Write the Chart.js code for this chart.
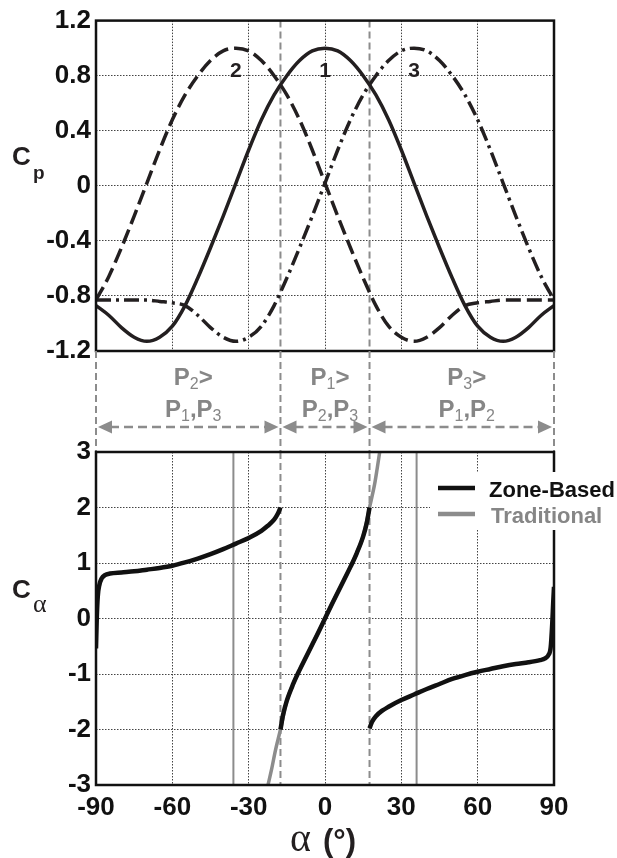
<!DOCTYPE html>
<html>
<head>
<meta charset="utf-8">
<script src="https://cdn.jsdelivr.net/npm/chart.js@4.4.1/dist/chart.umd.min.js"></script>
<style>
  html, body { margin: 0; padding: 0; background: #fff; }
  #wrap { position: relative; width: 617px; height: 858px; overflow: hidden; background: #fff; }
  #wrap canvas { position: absolute; left: 0; }
</style>
</head>
<body>
<div id="wrap">
  <canvas id="cpChart" width="617" height="460" style="top:0"></canvas>
  <canvas id="caChart" width="617" height="438" style="top:420px"></canvas>
</div>
<script>
// ---- data ----
const cpAlpha = [-90,-85,-80,-75,-70,-65,-60,-55,-50,-45,-40,-35,-30,-25,-20,-15,-10,-5,0,
                 5,10,15,20,25,30,35,40,45,50,55,60,65,70,75,80,85,90];
const cp1 = [-0.87,-0.94,-1.03,-1.10,-1.13,-1.10,-1.02,-0.87,-0.67,-0.45,-0.22,0.02,0.26,0.48,0.66,0.80,0.91,0.98,1.00,
             0.98,0.91,0.80,0.66,0.48,0.26,0.02,-0.22,-0.45,-0.67,-0.87,-1.02,-1.10,-1.13,-1.10,-1.03,-0.94,-0.87];
const cp2 = [-0.83,-0.66,-0.45,-0.22,0.02,0.26,0.48,0.66,0.80,0.91,0.98,1.00,0.98,0.91,0.80,0.66,0.48,0.26,0.02,
             -0.22,-0.45,-0.67,-0.87,-1.02,-1.10,-1.13,-1.10,-1.03,-0.94,-0.87,-0.85,-0.84,-0.83,-0.83,-0.83,-0.83,-0.83];
const cp3 = [-0.83,-0.83,-0.83,-0.83,-0.83,-0.84,-0.85,-0.87,-0.94,-1.03,-1.10,-1.13,-1.10,-1.02,-0.87,-0.67,-0.45,-0.22,0.02,
             0.26,0.48,0.66,0.80,0.91,0.98,1.00,0.98,0.91,0.80,0.66,0.48,0.26,0.02,-0.22,-0.45,-0.66,-0.83];
const cpTicks = [-1.2,-0.8,-0.4,0,0.4,0.8,1.2];

// zone-based C_alpha, three branches
const zoneAlphaA = [-90,-89.7,-89.3,-88.7,-87.8,-86.5,-84.5,-80,-75,-70,-65,-60,-55,-50,-45,-40,-35,-30,-25,-22.5,-20,-18.5,-17.5];
const zoneCaA    = [-0.54,0.0,0.4,0.6,0.72,0.78,0.81,0.83,0.85,0.88,0.91,0.95,1.01,1.08,1.16,1.25,1.35,1.45,1.58,1.67,1.78,1.89,2.0];
const zoneAlphaB = [-17.5,-16.5,-15,-12.5,-10,-7.5,-5,-2.5,0,2.5,5,7.5,10,12.5,15,16.5,17.5];
const zoneCaB    = [-2.0,-1.74,-1.48,-1.18,-0.93,-0.70,-0.47,-0.24,0,0.24,0.47,0.70,0.93,1.18,1.48,1.74,2.0];
const zoneAlphaC = [17.5,18.5,20,22.5,25,30,35,40,45,50,55,60,65,70,75,80,84.5,86.5,87.8,88.7,89.3,89.7,90];
const zoneCaC    = [-1.98,-1.86,-1.76,-1.66,-1.59,-1.47,-1.37,-1.27,-1.18,-1.09,-1.02,-0.96,-0.91,-0.86,-0.82,-0.79,-0.75,-0.72,-0.66,-0.52,-0.1,0.3,0.57];

// traditional C_alpha
const tradAlpha = [-22.4,-21,-19.5,-17.5,-15,-12.5,-10,-7.5,-5,-2.5,0,2.5,5,7.5,10,12.5,15,17.5,19.5,20.5,21.5];
const tradCa    = [-3.0,-2.72,-2.38,-2.0,-1.48,-1.18,-0.93,-0.70,-0.47,-0.24,0,0.24,0.47,0.70,0.93,1.18,1.48,2.0,2.42,2.7,3.0];
const tradLimits = [-36, 36];

const zoneBounds = [-90, -17.5, 17.5, 90];
const zoneMain = ['2', '1', '3'];
const zoneOthers = [['1', '3'], ['2', '3'], ['1', '2']];
const curveNames = ['2', '1', '3'];
const curvePeaks = [-35, 0, 35];
const xTicks = [-90, -60, -30, 0, 30, 60, 90];

// ---- style ----
const ink = '#231f20';
const gray = '#8c8c8c';
const textGray = '#868686';
const sans = "'Liberation Sans', Arial, sans-serif";
const serif = "'Liberation Serif', 'DejaVu Serif', serif";
const midBottom = 452; // top of the lower plot, page coords
Chart.defaults.font.family = sans;

function pts(xs, ys) {
    return xs.map((v, i) => ({ x: v, y: ys[i] }));
}

function vline(ctx, x, y0, y1) {
    ctx.beginPath();
    ctx.moveTo(x, y0);
    ctx.lineTo(x, y1);
    ctx.stroke();
}

// draw text made of [text, isSubscript] pieces, centred on cx
function richText(ctx, parts, cx, base, big, small, color) {
    let w = 0;
    parts.forEach(p => { ctx.font = p[1] ? small : big; w += ctx.measureText(p[0]).width; });
    let x = cx - w / 2;
    ctx.fillStyle = color;
    ctx.textAlign = 'left';
    ctx.textBaseline = 'alphabetic';
    parts.forEach(p => {
        ctx.font = p[1] ? small : big;
        ctx.fillText(p[0], x, base + (p[1] ? 4 : 0));
        x += ctx.measureText(p[0]).width;
    });
}

function arrowHead(ctx, x, y, dir) {
    ctx.beginPath();
    ctx.moveTo(x, y);
    ctx.lineTo(x - dir * 14, y - 6.5);
    ctx.lineTo(x - dir * 14, y + 6.5);
    ctx.closePath();
    ctx.fill();
}

function frame(ctx, a) {
    ctx.save();
    ctx.strokeStyle = '#111';
    ctx.lineWidth = 2.5;
    ctx.setLineDash([]);
    ctx.strokeRect(a.left, a.top, a.right - a.left, a.bottom - a.top);
    ctx.restore();
}

function zoneDashes(chart) {
    const { ctx, chartArea: a, scales: { x } } = chart;
    ctx.save();
    ctx.strokeStyle = gray;
    ctx.lineWidth = 2;
    ctx.setLineDash([7, 4]);
    zoneBounds.slice(1, 3).forEach(v => vline(ctx, x.getPixelForValue(v), a.top, a.bottom));
    ctx.restore();
}

const gridOpts = { color: '#444', lineWidth: 1, drawTicks: false };
const borderOpts = { display: false, dash: [1.5, 1.5] };
const tickFont = { size: 26, weight: 'bold' };

const topDeco = {
    id: 'topDeco',
    beforeDatasetsDraw(chart) { zoneDashes(chart); },
    afterDraw(chart) {
        const { ctx, chartArea: a, scales: { x, y } } = chart;
        frame(ctx, a);
        ctx.save();
        // curve numbers
        ctx.fillStyle = ink;
        ctx.font = 'bold 21px ' + sans;
        ctx.textAlign = 'center';
        ctx.textBaseline = 'middle';
        curveNames.forEach((n, i) => ctx.fillText(n, x.getPixelForValue(curvePeaks[i]), y.getPixelForValue(0.835)));
        // C_p
        ctx.textAlign = 'left';
        ctx.textBaseline = 'alphabetic';
        ctx.font = 'bold 26px ' + sans;
        ctx.fillText('C', 12, 165);
        ctx.font = 'bold 19px ' + sans;
        ctx.fillText('p', 33, 179);

        // zone annotations between the plots
        ctx.strokeStyle = gray;
        ctx.lineWidth = 2;
        ctx.setLineDash([7, 4]);
        zoneBounds.forEach(v => vline(ctx, x.getPixelForValue(v), a.bottom, midBottom));
        const big = 'bold 24px ' + sans, small = '16px ' + sans;
        const ay = 427;
        for (let i = 0; i < 3; i++) {
            const x0 = x.getPixelForValue(zoneBounds[i]), x1 = x.getPixelForValue(zoneBounds[i + 1]);
            const cx = (x0 + x1) / 2 + 5;
            richText(ctx, [['P', 0], [zoneMain[i], 1], ['>', 0]], cx, 385, big, small, textGray);
            richText(ctx, [['P', 0], [zoneOthers[i][0], 1], [',', 0], ['P', 0], [zoneOthers[i][1], 1]], cx, 417, big, small, textGray);
            ctx.strokeStyle = gray;
            ctx.lineWidth = 2.5;
            ctx.setLineDash([9, 5]);
            ctx.beginPath();
            ctx.moveTo(x0 + 14, ay);
            ctx.lineTo(x1 - 14, ay);
            ctx.stroke();
            ctx.fillStyle = gray;
            arrowHead(ctx, x0 + 2, ay, -1);
            arrowHead(ctx, x1 - 2, ay, 1);
        }
        ctx.restore();
    }
};

const botDeco = {
    id: 'botDeco',
    beforeDatasetsDraw(chart) { zoneDashes(chart); },
    afterDraw(chart) {
        const { ctx, chartArea: a } = chart;
        frame(ctx, a);
        ctx.save();
        // C_alpha
        ctx.fillStyle = ink;
        ctx.textAlign = 'left';
        ctx.textBaseline = 'alphabetic';
        ctx.font = 'bold 26px ' + sans;
        ctx.fillText('C', 12, 598 - 420);
        ctx.font = '26px ' + serif;
        ctx.fillText('\u03b1', 33, 612 - 420);
        // x title
        ctx.font = '40px ' + serif;
        ctx.fillText('\u03b1', 290, 851 - 420);
        ctx.font = 'bold 31px ' + sans;
        ctx.fillText('(\u00b0)', 323, 851 - 420);
        // legend
        ctx.fillStyle = '#fff';
        ctx.fillRect(430, 472 - 420, 187, 58);
        ctx.lineWidth = 4.5;
        ctx.strokeStyle = '#111';
        ctx.beginPath(); ctx.moveTo(438, 488 - 420); ctx.lineTo(475, 488 - 420); ctx.stroke();
        ctx.strokeStyle = gray;
        ctx.beginPath(); ctx.moveTo(438, 514 - 420); ctx.lineTo(475, 514 - 420); ctx.stroke();
        ctx.font = 'bold 22px ' + sans;
        ctx.fillStyle = '#111';
        ctx.fillText('Zone-Based', 489, 497 - 420);
        ctx.fillStyle = textGray;
        ctx.fillText('Traditional', 491, 523 - 420);
        ctx.restore();
    }
};

window.addEventListener('DOMContentLoaded', () => {
    // Upper plot: pressure coefficients
    new Chart(document.getElementById('cpChart'), {
        type: 'line',
        data: {
            datasets: [
                { label: 'Cp1', data: pts(cpAlpha, cp1), borderColor: ink, borderWidth: 3.5, pointRadius: 0,
                  cubicInterpolationMode: 'monotone' },
                { label: 'Cp2', data: pts(cpAlpha, cp2), borderColor: ink, borderWidth: 3.5, pointRadius: 0,
                  borderDash: [15, 6], cubicInterpolationMode: 'monotone' },
                { label: 'Cp3', data: pts(cpAlpha, cp3), borderColor: ink, borderWidth: 3.5, pointRadius: 0,
                  borderDash: [15, 5, 3, 5], cubicInterpolationMode: 'monotone' }
            ]
        },
        options: {
            responsive: false,
            animation: false,
            layout: { padding: { top: 17, right: 63, left: 0, bottom: 0 } },
            plugins: { legend: { display: false }, tooltip: { enabled: false } },
            scales: {
                x: {
                    type: 'linear', min: -90, max: 90,
                    afterBuildTicks: s => { s.ticks = xTicks.map(v => ({ value: v })); },
                    ticks: { display: false },
                    grid: gridOpts, border: borderOpts,
                    afterFit: s => { s.height = 109; }
                },
                y: {
                    min: -1.2, max: 1.2,
                    afterBuildTicks: s => { s.ticks = cpTicks.map(v => ({ value: v })); },
                    ticks: { padding: 5, color: '#111', font: tickFont, callback: v => String(Math.round(v * 10) / 10) },
                    grid: gridOpts, border: borderOpts,
                    afterFit: s => { s.width = 96; }
                }
            }
        },
        plugins: [topDeco]
    });

    // Lower plot: angle coefficient
    const zoneStyle = { borderColor: '#111', borderWidth: 4.5, pointRadius: 0, cubicInterpolationMode: 'monotone', order: 0 };
    const limitStyle = { borderColor: gray, borderWidth: 2, pointRadius: 0, order: 3 };
    new Chart(document.getElementById('caChart'), {
        type: 'line',
        data: {
            datasets: [
                Object.assign({ label: 'Zone-Based', data: pts(zoneAlphaA, zoneCaA) }, zoneStyle),
                Object.assign({ label: 'Zone-Based', data: pts(zoneAlphaB, zoneCaB) }, zoneStyle),
                Object.assign({ label: 'Zone-Based', data: pts(zoneAlphaC, zoneCaC) }, zoneStyle),
                { label: 'Traditional', data: pts(tradAlpha, tradCa), borderColor: gray, borderWidth: 3.5,
                  pointRadius: 0, cubicInterpolationMode: 'monotone', order: 2 },
                Object.assign({ label: 'limit', data: [{ x: tradLimits[0], y: -3 }, { x: tradLimits[0], y: 3 }] }, limitStyle),
                Object.assign({ label: 'limit', data: [{ x: tradLimits[1], y: -3 }, { x: tradLimits[1], y: 3 }] }, limitStyle)
            ]
        },
        options: {
            responsive: false,
            animation: false,
            layout: { padding: { top: 32, right: 63, left: 0, bottom: 0 } },
            plugins: { legend: { display: false }, tooltip: { enabled: false } },
            scales: {
                x: {
                    type: 'linear', min: -90, max: 90,
                    afterBuildTicks: s => { s.ticks = xTicks.map(v => ({ value: v })); },
                    ticks: { padding: 7, color: '#111', font: tickFont, maxRotation: 0 },
                    grid: gridOpts, border: borderOpts,
                    afterFit: s => { s.height = 73; }
                },
                y: {
                    min: -3, max: 3,
                    ticks: { stepSize: 1, padding: 5, color: '#111', font: tickFont },
                    grid: gridOpts, border: borderOpts,
                    afterFit: s => { s.width = 96; }
                }
            }
        },
        plugins: [botDeco]
    });
});
</script>
</body>
</html>
